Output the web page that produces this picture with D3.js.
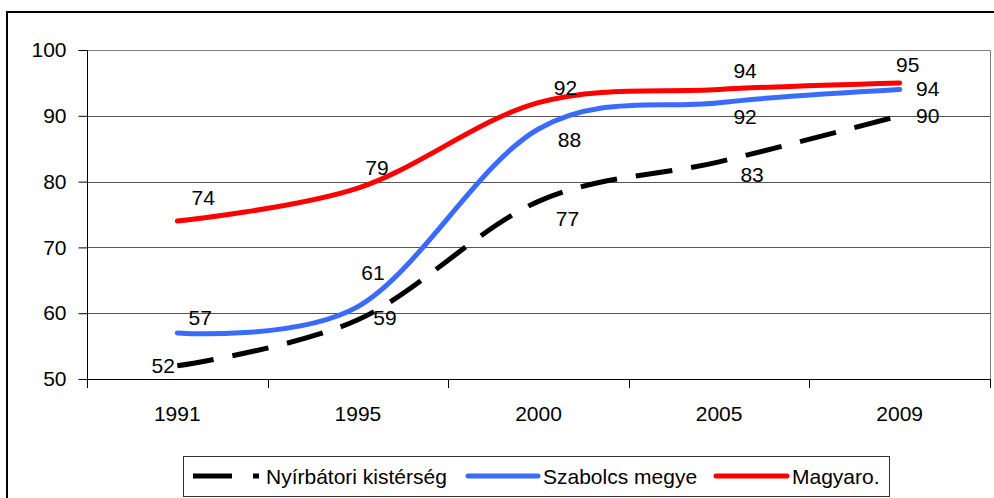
<!DOCTYPE html>
<html>
<head>
<meta charset="utf-8">
<script src="https://cdn.jsdelivr.net/npm/d3@7"></script>
<style>
  body { margin: 0; background: #fff; }
  svg { display: block; font-family: "Liberation Sans", Arial, sans-serif; }
</style>
</head>
<body>
<div id="chart"></div>
<script>
// data
const years = ['1991', '1995', '2000', '2005', '2009'];
const nyirbatori = [52, 59, 77, 83, 90];
const szabolcs = [57, 61, 88, 92, 94];
const magyaro = [74, 79, 92, 94, 95];
const yTicks = [50, 60, 70, 80, 90, 100];
const seriesNames = ['Nyírbátori kistérség', 'Szabolcs megye', 'Magyaro.'];

const width = 994;
const height = 498;
const plot = {left: 87, right: 990, top: 50, bottom: 379};
const fontSize = '21px';

const series = [
  {name: seriesNames[0], values: nyirbatori, color: '#000000', dash: '37,19',
   labelOff: [[-14, 0], [27, -2], [29, 17], [33, 13], [28, 0]]},
  {name: seriesNames[1], values: szabolcs, color: '#3A6BFF', dash: null,
   labelOff: [[23, -16], [15, -34], [31, 10], [26, 14], [28, -1]]},
  {name: seriesNames[2], values: magyaro, color: '#FF0000', dash: null,
   labelOff: [[26, -24], [19, -21], [27, -15], [26, -19], [8, -18]]}
];

const svg = d3.select('#chart').append('svg')
  .attr('width', width)
  .attr('height', height);

svg.append('rect')
  .attr('width', width).attr('height', height)
  .attr('fill', '#fff');

// outer chart border (runs off the right and bottom edges)
svg.append('rect')
  .attr('x', 7).attr('y', 12)
  .attr('width', width + 20).attr('height', height + 20)
  .attr('fill', 'none')
  .attr('stroke', '#000')
  .attr('stroke-width', 2);

// scales
const xBand = d3.scaleBand()
  .domain(years)
  .range([plot.left, plot.right])
  .paddingInner(0).paddingOuter(0);
const xCenter = d => xBand(d) + xBand.bandwidth() / 2;

const yScale = d3.scaleLinear()
  .domain([50, 100])
  .range([plot.bottom, plot.top]);

// gridlines
svg.append('g')
  .selectAll('line')
  .data(yTicks.filter(d => d > 50 && d < 100))
  .enter().append('line')
  .attr('x1', plot.left).attr('x2', plot.right)
  .attr('y1', d => Math.round(yScale(d)) + 0.5)
  .attr('y2', d => Math.round(yScale(d)) + 0.5)
  .attr('stroke', '#555')
  .attr('stroke-width', 1);

// plot area border (top and right)
svg.append('path')
  .attr('d', `M${plot.left},${plot.top + 0.5}H${plot.right + 0.5}V${plot.bottom}`)
  .attr('fill', 'none')
  .attr('stroke', '#808080')
  .attr('stroke-width', 1);

// y axis
const yAxis = d3.axisLeft(yScale)
  .tickValues(yTicks)
  .tickSize(9)
  .tickPadding(12)
  .tickFormat(d3.format('d'));

const yAxisG = svg.append('g')
  .attr('transform', `translate(${plot.left + 0.5}, 0)`)
  .call(yAxis);
yAxisG.select('.domain').attr('stroke', '#000').attr('d', `M0,${plot.top}V${plot.bottom}`);
yAxisG.selectAll('.tick line').attr('stroke', '#000');
yAxisG.selectAll('.tick text')
  .attr('fill', '#000')
  .style('font-size', fontSize)
  .style('font-family', '"Liberation Sans", Arial, sans-serif');

// x axis: ticks between categories, labels at centres
const xAxisG = svg.append('g');
xAxisG.append('line')
  .attr('x1', plot.left).attr('x2', plot.right + 1)
  .attr('y1', plot.bottom + 0.5).attr('y2', plot.bottom + 0.5)
  .attr('stroke', '#000');

const tickXs = years.map(d => xBand(d)).concat([xBand.range()[1]]);
xAxisG.selectAll('.xtick')
  .data(tickXs)
  .enter().append('line')
  .attr('class', 'xtick')
  .attr('x1', d => Math.round(d) + 0.5).attr('x2', d => Math.round(d) + 0.5)
  .attr('y1', plot.bottom).attr('y2', plot.bottom + 9)
  .attr('stroke', '#000');

xAxisG.selectAll('.xlabel')
  .data(years)
  .enter().append('text')
  .attr('class', 'xlabel')
  .attr('x', d => xCenter(d))
  .attr('y', 421)
  .attr('text-anchor', 'middle')
  .style('font-size', fontSize)
  .text(d => d);

// lines
const line = d3.line()
  .x((d, i) => xCenter(years[i]))
  .y(d => yScale(d))
  .curve(d3.curveCatmullRom.alpha(0));

series.forEach(s => {
  svg.append('path')
    .datum(s.values)
    .attr('d', line)
    .attr('fill', 'none')
    .attr('stroke', s.color)
    .attr('stroke-width', 5)
    .attr('stroke-linecap', s.dash ? 'butt' : 'round')
    .attr('stroke-linejoin', 'round')
    .attr('stroke-dasharray', s.dash);
});

// data labels
series.forEach(s => {
  svg.append('g')
    .selectAll('text')
    .data(s.values)
    .enter().append('text')
    .attr('x', (d, i) => xCenter(years[i]) + s.labelOff[i][0])
    .attr('y', (d, i) => yScale(d) + s.labelOff[i][1])
    .attr('dy', '0.36em')
    .attr('text-anchor', 'middle')
    .style('font-size', fontSize)
    .text(d => d);
});

// legend
const legendBox = {x: 183, y: 456, w: 706, h: 40};
const legendX = [193, 468, 716];
const sampleLen = [66, 70, 71];

let legend = svg.append('g').attr('class', 'legend');
legend.append('rect')
  .attr('x', legendBox.x + 0.5).attr('y', legendBox.y + 0.5)
  .attr('width', legendBox.w).attr('height', legendBox.h)
  .attr('fill', '#fff')
  .attr('stroke', '#333');

const legendMid = legendBox.y + legendBox.h / 2;
series.forEach((s, i) => {
  legend.append('line')
    .attr('x1', legendX[i]).attr('x2', legendX[i] + sampleLen[i])
    .attr('y1', legendMid).attr('y2', legendMid)
    .attr('stroke', s.color)
    .attr('stroke-width', 5)
    .attr('stroke-linecap', s.dash ? 'butt' : 'round')
    .attr('stroke-dasharray', s.dash ? '39,21' : null);

  legend.append('text')
    .attr('x', legendX[i] + sampleLen[i] + (s.dash ? 7 : 5))
    .attr('y', legendMid)
    .attr('dy', '0.36em')
    .style('font-size', fontSize)
    .text(s.name);
});
</script>
</body>
</html>
